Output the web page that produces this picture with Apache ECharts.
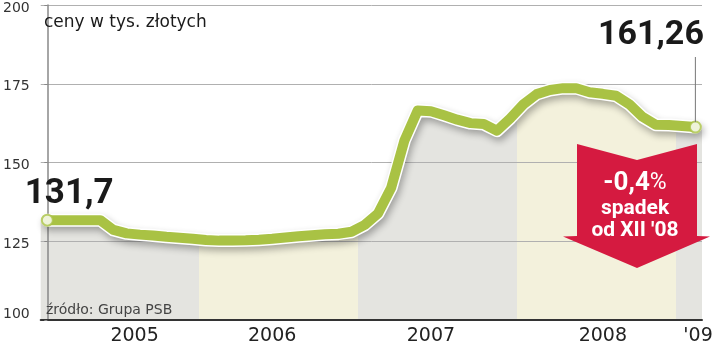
<!DOCTYPE html>
<html><head><meta charset="utf-8">
<script src="https://cdn.jsdelivr.net/npm/echarts@6/dist/echarts.min.js"></script>
<style>html,body{margin:0;padding:0;background:#fff}#c{width:720px;height:355px}</style>
</head><body><div id="c"></div>
<script>
// monthly prices, Jan 2005 .. Feb 2009 (thousand PLN)
const prices = [
  131.7,131.7,131.7,131.7,131.7,128.6,127.5,127.1,126.8,126.4,126.1,125.8,
  125.4,125.2,125.2,125.3,125.5,125.8,126.2,126.6,126.9,127.2,127.4,128.0,
  130.2,133.8,142.0,157.0,166.5,166.3,165.0,163.6,162.5,162.2,160.1,164.0,
  168.5,171.7,173.0,173.6,173.6,172.3,171.8,171.2,168.5,164.5,162.0,161.9,
  161.6,161.26
];
const yearLabels = ['2005','2006','2007','2008',"'09"];
const yearStartIdx = [0,12,24,36,48];
const yTicks = [100,125,150,175,200];
const startLabel = '131,7';
const endLabel = '161,26';
const changeValue = '-0,4';
const changeText1 = 'spadek';
const changeText2 = "od XII '08";
const unitTitle = 'ceny w tys. złotych';
const sourceText = 'źródło: Grupa PSB';

const GREEN = '#a9c244';
const GRAY = '#e4e4e0';
const BEIGE = '#f3f1dc';
const RED = '#d51a40';
const n = prices.length;
const labelPos = [6.6, 17, 29, 42, 49.2];

const pieces = yearStartIdx.map((s, k) => {
  const p = { gte: s - 0.5, color: k % 2 === 0 ? GRAY : BEIGE };
  if (k < yearStartIdx.length - 1) p.lt = yearStartIdx[k + 1] - 0.5; else p.lte = n + 1;
  if (k === 0) p.gte = -2;
  return p;
});

const lineData = prices.map((v, i) => [i, v]);
const areaData = [[-0.5, prices[0]]].concat(lineData, [[n - 0.5, prices[n - 1]]]);

const chart = echarts.init(document.getElementById('c'), null, { renderer: 'canvas' });
const option = {
  animation: false,
  grid: { left: 38, right: 18, top: 5, bottom: 35 },
  xAxis: {
    type: 'value', min: -0.5, max: n - 0.5, z: 2,
    axisLine: { show: true, lineStyle: { color: '#333', width: 2 } },
    axisTick: { show: false },
    splitLine: { show: false },
    axisLabel: {
      customValues: labelPos,
      formatter: v => { const k = labelPos.indexOf(v); return k >= 0 ? yearLabels[k] : ''; },
      fontFamily: 'DejaVu Sans', fontSize: 19, color: '#222', margin: 7
    }
  },
  yAxis: {
    type: 'value', min: yTicks[0], max: yTicks[yTicks.length - 1], interval: 25, z: 2,
    axisLine: { show: true, lineStyle: { color: '#888', width: 1.5 } },
    axisTick: { show: true, length: 3, lineStyle: { color: '#888' } },
    splitLine: { show: true, lineStyle: { color: '#b0b0b0', width: 1 } },
    axisLabel: {
      margin: 11,
      formatter: v => v === yTicks[0] ? '{lo|' + v + '}' : '{hi|' + v + '}',
      rich: {
        hi: { fontFamily: 'DejaVu Sans', fontSize: 14, color: '#333', padding: [6, 0, 0, 0] },
        lo: { fontFamily: 'DejaVu Sans', fontSize: 14, color: '#333', padding: [0, 0, 12, 0] }
      }
    }
  },
  visualMap: {
    show: false, type: 'piecewise', seriesIndex: 0, dimension: 0, pieces: pieces
  },
  series: [
    {
      type: 'line', data: areaData, z: 1, showSymbol: false, silent: true,
      lineStyle: { width: 0 },
      areaStyle: { opacity: 1, origin: 'start' }
    },
    {
      type: 'line', data: lineData, z: 3, showSymbol: false, silent: true,
      lineStyle: { color: '#ffffff', width: 13, cap: 'round', join: 'round',
        shadowColor: 'rgba(0,0,0,0.3)', shadowBlur: 7, shadowOffsetX: 2, shadowOffsetY: 4 }
    },
    {
      type: 'line', data: lineData, z: 4, showSymbol: false, silent: true,
      lineStyle: { color: GREEN, width: 10, cap: 'round', join: 'round' }
    },
    {
      type: 'scatter', data: [lineData[0], lineData[n - 1]], z: 5, symbolSize: 11, silent: true,
      itemStyle: { color: '#fff', borderColor: GREEN, borderWidth: 2 }
    }
  ]
};
chart.setOption(option);

const p0 = chart.convertToPixel({ gridIndex: 0 }, lineData[0]);
const pN = chart.convertToPixel({ gridIndex: 0 }, lineData[n - 1]);
const bold = (s) => 'bold ' + s + 'px Roboto';

chart.setOption({
  graphic: [
    { type: 'text', z: 20, style: { x: 44, y: 22.4, text: unitTitle, font: '17px "DejaVu Sans"', fill: '#1a1a1a', verticalAlign: 'middle' } },
    { type: 'text', z: 20, style: { x: 46, y: 310.2, text: sourceText, font: '14px "DejaVu Sans"', fill: '#444', verticalAlign: 'middle' } },
    { type: 'text', z: 20, style: { x: p0[0] - 22.6, y: p0[1] - 25.4, text: startLabel, font: bold(35), fill: '#1a1a1a', verticalAlign: 'middle' } },
    { type: 'text', z: 20, style: { x: pN[0] + 8.5, y: 35.4, text: endLabel, font: bold(34), fill: '#1a1a1a', align: 'right', verticalAlign: 'middle' } },
    { type: 'line', z: 20, shape: { x1: pN[0], y1: 57, x2: pN[0], y2: pN[1] - 5 }, style: { stroke: '#777', lineWidth: 1 } },
    { type: 'polygon', z: 20, shape: { points: [[577,144],[637,160],[697,144],[697,236],[710,236.5],[637,268],[563,236.5],[577,236]] }, style: { fill: RED } },
    { type: 'text', z: 21, style: { x: 635, y: 183.1, align: 'center', verticalAlign: 'middle',
        text: '{a|' + changeValue + '}{b|%}',
        rich: { a: { font: bold(26), fill: '#fff' }, b: { font: '23px Roboto', fill: '#fff' } } } },
    { type: 'text', z: 21, style: { x: 635, y: 209.2, text: changeText1, font: bold(21), fill: '#fff', align: 'center', verticalAlign: 'middle' } },
    { type: 'text', z: 21, style: { x: 635, y: 230.7, text: changeText2, font: bold(21), fill: '#fff', align: 'center', verticalAlign: 'middle' } }
  ]
});
</script>
</body></html>
